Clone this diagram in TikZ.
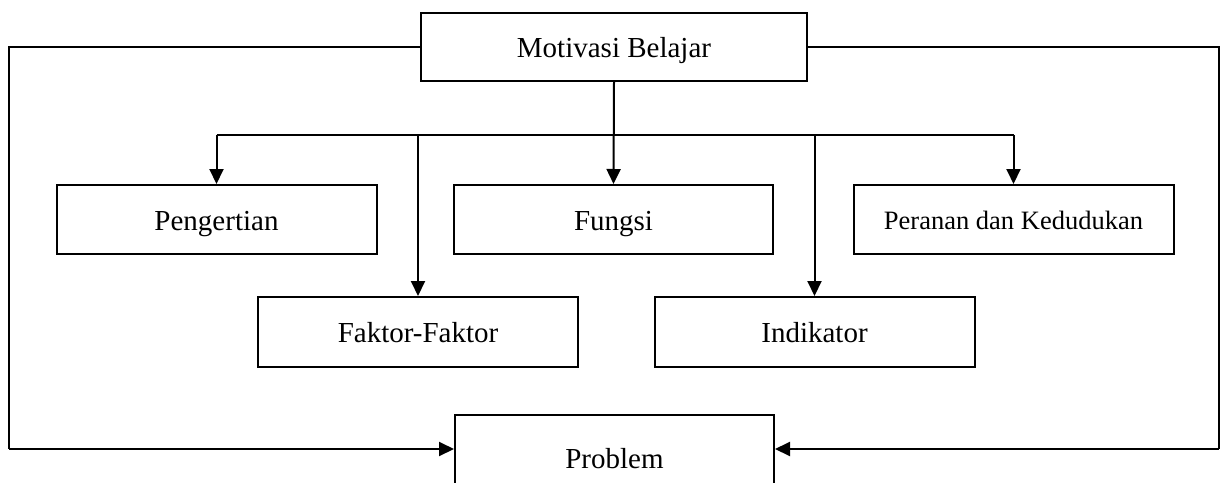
\documentclass[tikz,border=0pt]{standalone}
\usepackage{fontspec}
\setmainfont{Liberation Serif}
\usetikzlibrary{arrows.meta}

\begin{document}
\begin{tikzpicture}[x=1pt, y=-1pt,
  box/.style={draw, line width=2pt, rectangle, inner sep=0pt,
              text height=21pt, text depth=0pt,
              font=\fontsize{29}{32}\selectfont},
  thinline/.style={line width=1.1pt},
  arrowline/.style={line width=2pt, -{Triangle[length=15pt,width=14pt]}}]
  \useasboundingbox (0,0) rectangle (1221,482);
  \clip (0,0) rectangle (1221,482);

  % boxes
  \node[box, minimum width=386pt, minimum height=68pt] (mot) at (614,47) {Motivasi Belajar};
  \node[box, minimum width=320pt, minimum height=69pt] (peng) at (216.5,219.5) {Pengertian};
  \node[box, minimum width=319pt, minimum height=69pt] (fung) at (613.5,219.5) {Fungsi};
  \node[box, minimum width=320pt, minimum height=69pt, text height=19.5pt,
        font=\fontsize{26.5}{29}\selectfont] (per) at (1013.5,219.5) {Peranan dan Kedudukan};
  \node[box, minimum width=320pt, minimum height=70pt] (fak) at (418,332) {Faktor-Faktor};
  \node[box, minimum width=320pt, minimum height=70pt] (ind) at (814.5,332) {Indikator};
  \node[box, minimum width=319pt, minimum height=85pt] (prob) at (614.5,457.5) {Problem};

  % distribution bar
  \coordinate (hub) at (613.5,135);
  \coordinate (barl) at (216.5,135);
  \coordinate (barr) at (1013.5,135);
  \draw[thinline] (barl) -- (barr);
  \draw[arrowline] (mot.south) -- (fung.north);
  \draw[arrowline] (barl) -- (peng.north);
  \draw[arrowline] (barr) -- (per.north);
  \draw[arrowline] (fak.north |- hub) -- (fak.north);
  \draw[arrowline] (ind.north |- hub) -- (ind.north);

  % outer loops to Problem
  \coordinate (lt) at (9,47);
  \coordinate (lb) at (9,449);
  \coordinate (rt) at (1219,47);
  \coordinate (rb) at (1219,449);
  \draw[thinline] (mot.west) -- (lt) -- (lb);
  \draw[thinline] (mot.east) -- (rt) -- (rb);
  \draw[arrowline] (lb) -- (prob.west |- lb);
  \draw[arrowline] (rb) -- (prob.east |- rb);
\end{tikzpicture}
\end{document}
